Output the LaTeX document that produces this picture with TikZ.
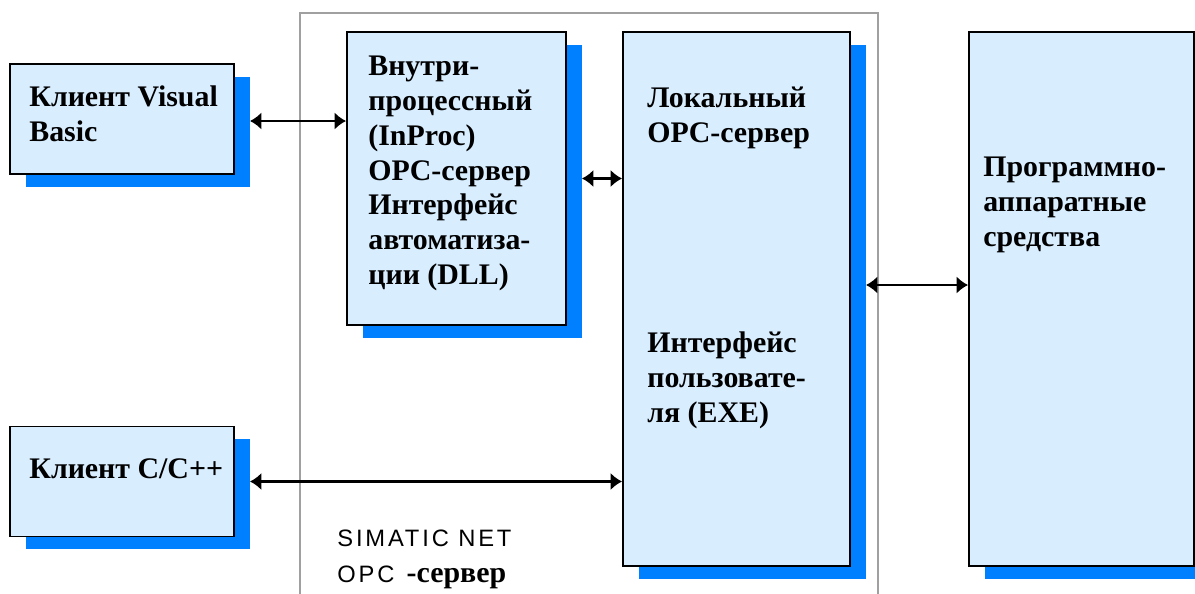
\documentclass[tikz,border=0pt]{standalone}
\usepackage{fontspec}
\setmainfont{Liberation Serif}
\newfontfamily\simaticfont[LetterSpace=12]{Liberation Sans}
\usetikzlibrary{positioning, arrows.meta, calc, shadows}
\definecolor{boxfill}{HTML}{D8EEFF}
\definecolor{shadowblue}{HTML}{0080FF}
\definecolor{framegray}{HTML}{A0A0A0}

\begin{document}
\begin{tikzpicture}[
    box/.style={
        rectangle,
        draw=black,
        fill=boxfill,
        line width=1.1pt,
        general shadow={fill=shadowblue, shadow xshift=0.32cm, shadow yshift=-0.25cm}
    },
    biarrow/.style={
        {Latex[length=6.5pt,width=10pt]}-{Latex[length=6.5pt,width=10pt]},
        line width=1.4pt,
        color=black
    },
    frame/.style={
        draw=framegray,
        line width=1.1pt
    },
    lbl/.style={
        font=\fontsize{17}{19.8}\selectfont\bfseries,
        align=left,
        anchor=base west,
        inner sep=0pt
    },
    simlbl/.style={
        font=\fontsize{13.5}{15}\selectfont\simaticfont,
        anchor=base west,
        inner sep=0pt
    }
]
\clip (0,0) rectangle (23.9,-11.86);

% SIMATIC NET frame
\draw[frame] (6,-12) |- (17.56,-0.26) -- (17.56,-12);

% Boxes
\node[box, minimum width=4.48cm, minimum height=2.2cm]   (vb)     at (2.44,-2.38)  {};
\node[box, minimum width=4.48cm, minimum height=2.2cm]   (cpp)    at (2.44,-9.63)  {};
\node[box, minimum width=4.38cm, minimum height=5.86cm]  (inproc) at (9.13,-3.57)  {};
\node[box, minimum width=4.54cm, minimum height=10.68cm] (local)  at (14.73,-5.98) {};
\node[box, minimum width=4.5cm,  minimum height=10.68cm] (hw)     at (21.63,-5.98) {};

% Box texts (placed at the baseline of the last line)
\node[lbl] (vbtext)     at (0.58,-2.82)  {Клиент Visual\\Basic};
\node[lbl] (cpptext)    at (0.58,-9.56)  {Клиент C/C++};
\node[lbl] (inproctext) at (7.36,-5.69)  {Внутри-\\процессный\\(InProc)\\OPC-сервер\\Интерфейс\\автоматиза-\\ции (DLL)};
\node[lbl] (localtext)  at (12.94,-2.84) {Локальный\\OPC-сервер};
\node[lbl] (uitext)     at (12.94,-8.44) {Интерфейс\\пользовате-\\ля (EXE)};
\node[lbl] (hwtext)     at (19.66,-4.92) {Программно-\\аппаратные\\средства};

% Frame caption
\node[simlbl] (simatic) at (6.74,-10.92) {SIMATIC NET};
\node[simlbl] (opc)     at (6.74,-11.64) {OPC \textnormal{\fontsize{17}{19.8}\selectfont\bfseries -сервер}};

% Connections
\draw[biarrow] ([xshift=0.3cm, yshift=-0.04cm]vb.east) -- ([yshift=-0.04cm]vb.east -| inproc.west);
\draw[biarrow] ([xshift=0.3cm]inproc.east) -- (inproc.east -| local.west);
\draw[biarrow] ([xshift=0.3cm]cpp.east) -- (cpp.east -| local.west);
\draw[biarrow] ([xshift=0.3cm, yshift=0.28cm]local.east) -- ([yshift=0.28cm]hw.west);

\end{tikzpicture}
\end{document}
